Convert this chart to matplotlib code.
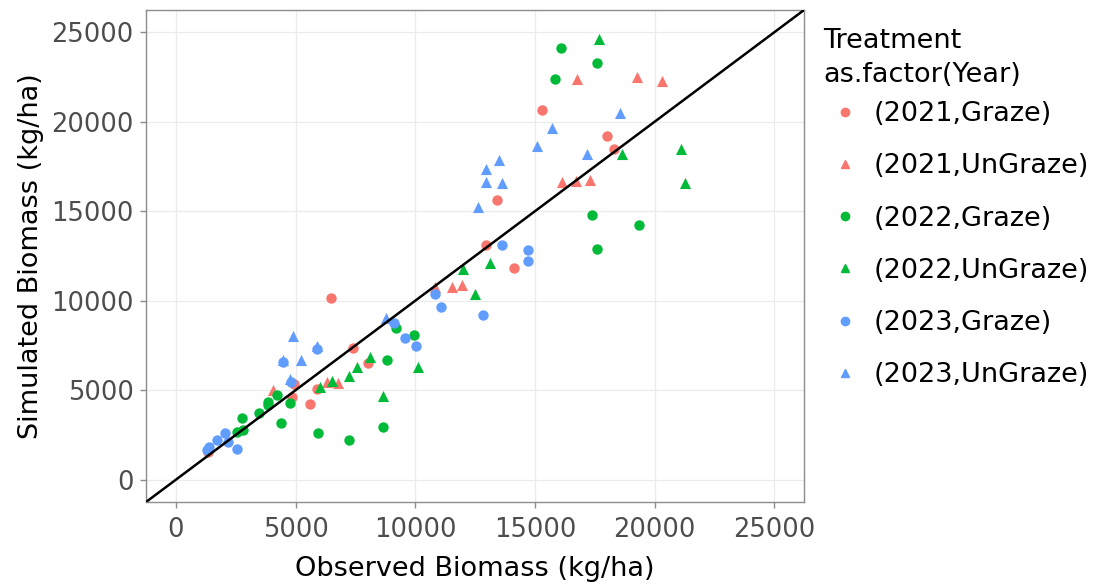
import numpy as np
import matplotlib.pyplot as plt
from matplotlib.lines import Line2D

# observed / simulated biomass (kg/ha)
obs_2021_graze = [15290, 18000, 18310, 13430, 12950, 14130, 6480, 7410, 8010, 4950, 5880, 4840, 5600, 1350]
sim_2021_graze = [20660, 19230, 18490, 15650, 13140, 11840, 10130, 7350, 6510, 5340, 5070, 4600, 4200, 1550]

obs_2021_ungraze = [16750, 19280, 20300, 16140, 16720, 17300, 11520, 11940, 10830, 6300, 6790, 4040]
sim_2021_ungraze = [22420, 22510, 22290, 16610, 16690, 16760, 10760, 10860, 10780, 5470, 5420, 5020]

obs_2022_graze = [16090, 17590, 15840, 17400, 19350, 17590, 9200, 9960, 8810, 4210, 3860, 3830,
                  4770, 3470, 2750, 4390, 2550, 2810, 5950, 7250, 8670]
sim_2022_graze = [24130, 23260, 22380, 14770, 14220, 12900, 8450, 8070, 6700, 4730, 4360, 4180,
                  4290, 3710, 3450, 3160, 2650, 2750, 2620, 2190, 2970]

obs_2022_ungraze = [17690, 18630, 21100, 21280, 13130, 12010, 12500, 8110, 7550, 10130, 7250, 6510, 6020, 8670]
sim_2022_ungraze = [24650, 18190, 18470, 16580, 12120, 11750, 10360, 6830, 6280, 6310, 5770, 5530, 5200, 4690]

obs_2023_graze = [13610, 14730, 14730, 12820, 10830, 11060, 9110, 9570, 10020, 5880, 4490, 4790,
                  2050, 1700, 2190, 1380, 1280, 2540]
sim_2023_graze = [13090, 12810, 12210, 9190, 10360, 9670, 8780, 7910, 7480, 7290, 6550, 5450,
                  2600, 2190, 2130, 1820, 1630, 1690]

obs_2023_ungraze = [18570, 15730, 15080, 17170, 13490, 12960, 12960, 13640, 12640, 8780, 4900, 5880, 4490, 5230, 4750]
sim_2023_ungraze = [20470, 19640, 18620, 18210, 17870, 17390, 16630, 16580, 15240, 9060, 8040, 7450, 6700, 6680, 5650]

labels = ['(2021,Graze)', '(2021,UnGraze)', '(2022,Graze)',
          '(2022,UnGraze)', '(2023,Graze)', '(2023,UnGraze)']
colors = ['#F8766D', '#F8766D', '#00BA38', '#00BA38', '#619CFF', '#619CFF']
shapes = ['o', '^', 'o', '^', 'o', '^']

series = [(obs_2021_graze, sim_2021_graze), (obs_2021_ungraze, sim_2021_ungraze),
          (obs_2022_graze, sim_2022_graze), (obs_2022_ungraze, sim_2022_ungraze),
          (obs_2023_graze, sim_2023_graze), (obs_2023_ungraze, sim_2023_ungraze)]

plt.rcParams['font.family'] = ['DejaVu Sans']

fig = plt.figure(figsize=(11.08, 5.84), dpi=100)
ax = fig.add_axes([0.1318, 0.1404, 0.5939, 0.8425])

for (x, y), c, m in zip(series, colors, shapes):
    ax.scatter(x, y, c=c, marker=m, s=64 if m == '^' else 56, linewidths=0, zorder=3)

lim = (-1250, 26250)
ax.plot(lim, lim, color='black', lw=1.8, zorder=4)
ax.set_xlim(lim)
ax.set_ylim(lim)

ticks = [0, 5000, 10000, 15000, 20000, 25000]
ax.set_xticks(ticks)
ax.set_yticks(ticks)
ax.grid(True, color='#EBEBEB', lw=0.9, zorder=0)
ax.set_axisbelow(True)
for s in ax.spines.values():
    s.set_color('#8C8C8C')
    s.set_linewidth(1.0)
ax.tick_params(colors='#8C8C8C', labelcolor='#4D4D4D', labelsize=18.5, length=4, width=1)
ax.tick_params(axis='x', pad=7)
ax.tick_params(axis='y', pad=5)

ax.set_xlabel('Observed Biomass (kg/ha)', fontsize=19.5, labelpad=9)
ax.set_ylabel('Simulated Biomass (kg/ha)', fontsize=19.5, labelpad=5)

# legend title drawn separately so its spacing can match
fig.text(0.7428, 0.930, 'Treatment', fontsize=19.5, va='center', ha='left')
fig.text(0.7428, 0.872, 'as.factor(Year)', fontsize=19.5, va='center', ha='left')

handles = [Line2D([], [], ls='', marker=m, color=c, markersize=6)
           for c, m in zip(colors, shapes)]
leg = fig.legend(handles, labels, loc='upper left', bbox_to_anchor=(0.7428, 0.827),
                 frameon=False, fontsize=19.5, labelspacing=0.97, borderpad=0,
                 handletextpad=0.25, handlelength=1.6, borderaxespad=0)

fig.savefig('out.png', dpi=100)
